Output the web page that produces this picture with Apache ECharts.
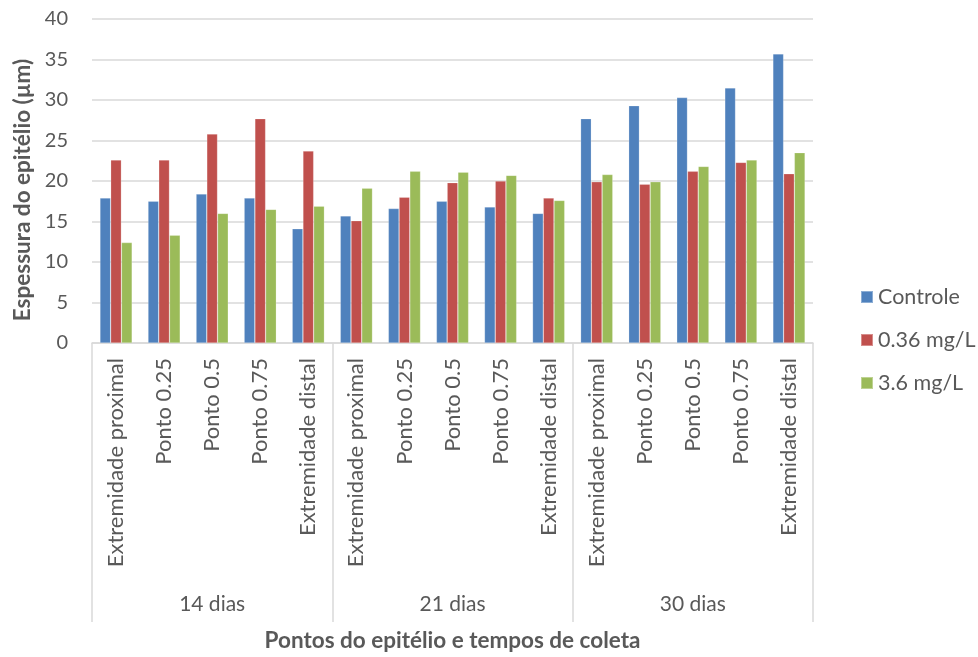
<!DOCTYPE html>
<html>
<head>
<meta charset="utf-8">
<script src="https://cdn.jsdelivr.net/npm/echarts@6/dist/echarts.min.js"></script>
<style>
  html, body { margin: 0; padding: 0; background: #fff; }
  #chart { width: 978px; height: 657px; }
</style>
</head>
<body>
<div id="chart"></div>
<script>
// Sampling points along the epithelium, repeated for each collection time
const points = ['Extremidade proximal', 'Ponto 0.25', 'Ponto 0.5', 'Ponto 0.75', 'Extremidade distal'];
const periods = ['14 dias', '21 dias', '30 dias'];
const categories = periods.flatMap(() => points);

// Epithelium thickness (µm) per treatment
const controle = [17.9, 17.5, 18.4, 17.9, 14.1, 15.7, 16.6, 17.5, 16.8, 16.0, 27.7, 29.3, 30.3, 31.5, 35.7];
const dose036 = [22.6, 22.6, 25.8, 27.7, 23.7, 15.1, 18.0, 19.8, 20.0, 17.9, 19.9, 19.6, 21.2, 22.3, 20.9];
const dose36 = [12.4, 13.3, 16.0, 16.5, 16.9, 19.1, 21.2, 21.1, 20.7, 17.6, 20.8, 19.9, 21.8, 22.6, 23.5];

const seriesNames = ['Controle', '0.36 mg/L', '3.6 mg/L'];
const colors = ['#4f81bd', '#c0504d', '#9bbb59'];
const yTicks = { min: 0, max: 40, interval: 5 };

const font = 'Lato';
const textColor = '#595959';
const lineColor = '#d9d9d9';

const chart = echarts.init(document.getElementById('chart'), null, { renderer: 'canvas' });

chart.setOption({
  animation: false,
  textStyle: { fontFamily: font },
  grid: { left: 92, right: 165, top: 19, bottom: 314, containLabel: false },
  legend: {
    orient: 'vertical',
    left: 855,
    top: 281,
    itemWidth: 12,
    itemHeight: 12,
    itemGap: 21,
    icon: 'rect',
    textStyle: { fontSize: 21.5, color: textColor, fontFamily: font },
    data: seriesNames
  },
  xAxis: [
    {
      type: 'category',
      data: categories,
      position: 'bottom',
      axisLine: { show: true, lineStyle: { color: lineColor, width: 1.5 } },
      axisTick: { show: false },
      axisLabel: { rotate: 90, fontSize: 22, color: textColor, margin: 15, interval: 0, fontFamily: font },
      splitLine: { show: false }
    },
    {
      type: 'category',
      data: periods,
      position: 'bottom',
      axisLine: { show: false },
      axisTick: { show: true, length: 279, lineStyle: { color: lineColor, width: 1.5 } },
      axisLabel: { fontSize: 21, color: textColor, margin: 251, fontFamily: font },
      name: 'Pontos do epitélio e tempos de coleta',
      nameLocation: 'middle',
      nameGap: 286,
      nameTextStyle: { fontSize: 22.5, fontWeight: 'bold', color: textColor, fontFamily: font }
    }
  ],
  yAxis: {
    type: 'value',
    min: yTicks.min,
    max: yTicks.max,
    interval: yTicks.interval,
    axisLine: { show: false },
    axisTick: { show: false },
    axisLabel: { fontSize: 20, color: textColor, margin: 24, fontFamily: font },
    splitLine: { lineStyle: { color: lineColor, width: 1.5 } },
    name: 'Espessura do epitélio (µm)',
    nameLocation: 'middle',
    nameGap: 57,
    nameTextStyle: { fontSize: 22.5, fontWeight: 'bold', color: textColor, fontFamily: font, padding: [0, 18, 0, 0] }
  },
  series: [controle, dose036, dose36].map((vals, i) => ({
    name: seriesNames[i],
    type: 'bar',
    xAxisIndex: 0,
    data: vals,
    barGap: '0%',
    barCategoryGap: '33%',
    itemStyle: { color: colors[i], borderColor: 'rgba(255,255,255,0.35)', borderWidth: 0.6 }
  }))
});
</script>
</body>
</html>
